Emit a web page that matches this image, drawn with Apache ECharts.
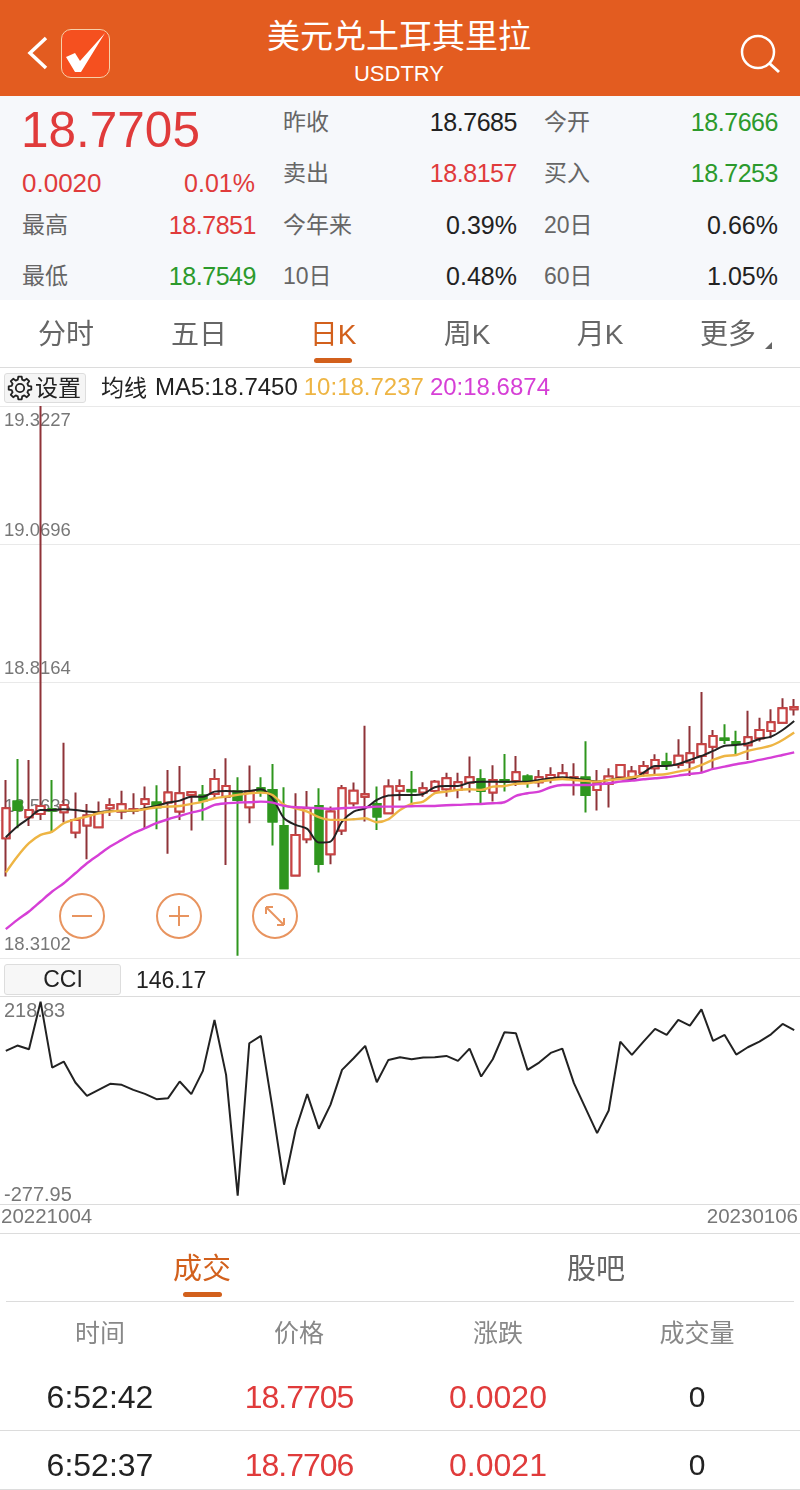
<!DOCTYPE html>
<html>
<head>
<meta charset="utf-8">
<title>USDTRY</title>
<script src="https://cdn.jsdelivr.net/npm/echarts@6/dist/echarts.min.js"></script>
<style>
  html, body { margin: 0; padding: 0; width: 800px; height: 1490px; overflow: hidden; background: #fff; }
  body, #chart, .t { font-family: "Liberation Sans", "Noto Sans CJK SC", sans-serif; }
  #chart { position: absolute; left: 0; top: 0; width: 800px; height: 1490px; }
  .box { position: absolute; }
  .t { position: absolute; white-space: nowrap; line-height: 1; transform: translateY(-50%); }
  .t.r { transform: translate(-100%, -50%); }
  .t.c { transform: translate(-50%, -50%); }
  svg { position: absolute; }
</style>
</head>
<body>
<div id="chart"></div>
<div id="chrome"></div>
<script>
// ---- данные графика ----
const dates = [
  '20221004','20221005','20221006','20221007','20221010','20221011','20221012','20221013','20221014',
  '20221017','20221018','20221019','20221020','20221021','20221024','20221025','20221026','20221027','20221028',
  '20221031','20221101','20221102','20221103','20221104','20221107','20221108','20221109','20221110','20221111',
  '20221114','20221115','20221116','20221117','20221118','20221121','20221122','20221123','20221124','20221125',
  '20221128','20221129','20221130','20221201','20221202','20221205','20221206','20221207','20221208','20221209',
  '20221212','20221213','20221214','20221215','20221216','20221219','20221220','20221221','20221222','20221223',
  '20221226','20221227','20221228','20221229','20221230','20230102','20230103','20230104','20230105','20230106'
];
// open, close, low, high
const candles = [
  [18.5299,18.5849,18.4596,18.6368],[18.5971,18.5818,18.5482,18.6753],[18.5684,18.5818,18.5525,18.6735],
  [18.5745,18.5891,18.5635,19.3227],[18.5830,18.5806,18.5403,18.6368],[18.5775,18.5910,18.5586,18.7052],
  [18.5403,18.5635,18.5299,18.6136],[18.5531,18.5714,18.4914,18.5928],[18.5500,18.5757,18.5482,18.5971],
  [18.5849,18.5910,18.5708,18.6032],[18.5788,18.5922,18.5647,18.6172],[18.5806,18.5830,18.5739,18.6124],
  [18.5928,18.6014,18.5482,18.6246],[18.5953,18.5867,18.5464,18.6270],[18.5953,18.6136,18.5012,18.6551],
  [18.5788,18.6124,18.5635,18.6625],[18.6093,18.6142,18.5439,18.6154],[18.6081,18.5989,18.5623,18.6276],
  [18.6111,18.6386,18.6032,18.6570],[18.6062,18.6258,18.4810,18.6765],[18.6154,18.6001,18.3142,18.6417],
  [18.5867,18.6154,18.5574,18.6631],[18.6215,18.6154,18.6062,18.6417],[18.6185,18.5604,18.5164,18.6661],
  [18.5525,18.4382,18.4382,18.6234],[18.4614,18.5360,18.4596,18.6124],[18.5280,18.5849,18.5207,18.6166],
  [18.5891,18.4828,18.4669,18.6215],[18.5005,18.5788,18.4822,18.5879],[18.5439,18.6215,18.5360,18.6276],
  [18.5940,18.6172,18.5879,18.6319],[18.6062,18.6105,18.5604,18.7364],[18.5928,18.5696,18.5451,18.6246],
  [18.5757,18.6246,18.5745,18.6380],[18.6172,18.6258,18.5989,18.6380],[18.6185,18.6160,18.5879,18.6533],
  [18.6136,18.6215,18.6062,18.6325],[18.6166,18.6337,18.6136,18.6368],[18.6197,18.6399,18.6062,18.6502],
  [18.6185,18.6325,18.6032,18.6502],[18.6319,18.6417,18.6136,18.6796],[18.6380,18.6166,18.5910,18.6564],
  [18.6136,18.6368,18.5971,18.6637],[18.6368,18.6331,18.6154,18.6845],[18.6350,18.6509,18.6258,18.6808],
  [18.6429,18.6350,18.6227,18.6472],[18.6325,18.6417,18.6234,18.6551],[18.6399,18.6460,18.6307,18.6600],
  [18.6399,18.6490,18.6368,18.6661],[18.6386,18.6417,18.6081,18.6673],[18.6411,18.6093,18.5769,18.7077],
  [18.6185,18.6307,18.5806,18.6551],[18.6295,18.6429,18.5861,18.6582],[18.6417,18.6643,18.6399,18.6661],
  [18.6417,18.6521,18.6399,18.6625],[18.6502,18.6625,18.6429,18.6716],[18.6582,18.6735,18.6472,18.6838],
  [18.6692,18.6661,18.6551,18.6869],[18.6643,18.6814,18.6582,18.7113],[18.6692,18.6857,18.6441,18.7358],
  [18.6808,18.7022,18.6490,18.7981],[18.6979,18.7175,18.6551,18.7284],[18.7126,18.7101,18.7028,18.7388],
  [18.7065,18.7028,18.6845,18.7272],[18.7003,18.7150,18.6735,18.7639],[18.7132,18.7284,18.7071,18.7511],
  [18.7266,18.7425,18.7132,18.7663],[18.7419,18.7682,18.7407,18.7865],[18.7666,18.7705,18.7549,18.7851]
];
const ma5 = [
  18.5317,18.5513,18.5665,18.5818,18.5818,18.5830,18.5818,18.5788,18.5775,18.5800,18.5800,18.5800,18.5849,18.5891,
  18.5953,18.5989,18.6062,18.6062,18.6154,18.6166,18.6154,18.6166,18.6197,18.6032,18.5665,18.5543,18.5470,18.5219,
  18.5238,18.5604,18.5788,18.5849,18.6001,18.6081,18.6093,18.6093,18.6111,18.6234,18.6258,18.6258,18.6319,18.6337,
  18.6337,18.6337,18.6337,18.6337,18.6368,18.6399,18.6417,18.6399,18.6368,18.6337,18.6368,18.6399,18.6386,18.6502,
  18.6625,18.6625,18.6661,18.6735,18.6808,18.6900,18.6997,18.7010,18.7040,18.7120,18.7162,18.7284,18.7450
];
const ma10 = [
  18.4669,18.4963,18.5207,18.5360,18.5421,18.5574,18.5647,18.5696,18.5757,18.5788,18.5806,18.5806,18.5830,18.5867,
  18.5879,18.5891,18.5928,18.5971,18.6032,18.6062,18.6093,18.6124,18.6136,18.6093,18.5910,18.5849,18.5788,18.5684,
  18.5635,18.5635,18.5647,18.5665,18.5592,18.5647,18.5818,18.5928,18.5971,18.6124,18.6154,18.6185,18.6197,18.6185,
  18.6246,18.6258,18.6295,18.6307,18.6337,18.6368,18.6386,18.6368,18.6350,18.6337,18.6368,18.6386,18.6417,18.6447,
  18.6460,18.6478,18.6521,18.6564,18.6643,18.6735,18.6808,18.6826,18.6900,18.6948,18.6997,18.7101,18.7237
];
const ma20 = [
  18.3631,18.3802,18.3955,18.4138,18.4321,18.4474,18.4657,18.4840,18.4993,18.5146,18.5268,18.5390,18.5482,18.5574,
  18.5647,18.5708,18.5769,18.5818,18.5910,18.5940,18.5953,18.5959,18.5971,18.5953,18.5891,18.5867,18.5861,18.5849,
  18.5836,18.5849,18.5861,18.5867,18.5879,18.5879,18.5879,18.5885,18.5891,18.5891,18.5904,18.5910,18.5922,18.5928,
  18.5940,18.5959,18.6075,18.6124,18.6154,18.6234,18.6276,18.6276,18.6276,18.6289,18.6307,18.6337,18.6356,18.6380,
  18.6399,18.6417,18.6447,18.6478,18.6502,18.6570,18.6612,18.6655,18.6692,18.6735,18.6777,18.6826,18.6874
];
const cci = [
  92.7,106.4,97.0,218.83,50.1,65.5,11.8,-22.3,-6.9,8.4,5.8,-7.0,-17.2,-30.8,-28.2,14.3,-18.0,41.6,172.0,31.4,-277.95,
  112.3,131.1,-53.8,-249.8,-109.2,-18.0,-106.6,-45.3,44.2,74.0,105.5,12.6,69.7,76.5,71.4,75.7,76.5,79.9,67.2,98.7,
  27.1,71.4,140.4,137.9,44.2,62.9,87.6,98.7,10.1,-53.8,-117.7,-59.8,116.6,82.5,116.6,149.0,133.6,172.0,157.5,199.2,
  118.3,133.6,83.4,102.1,116.6,135.3,161.7,146.17
];
const priceTicks = [18.3102, 18.5633, 18.8164, 19.0696, 19.3227];
const cciTicks = [-277.95, 218.83];
const maLabels = { MA5: 'MA5:18.7450', MA10: '10:18.7237', MA20: '20:18.6874' };

// ---- шапка и таблицы вокруг графика ----
const ORANGE = '#e35c20', ACCENT = '#d2601c', RED = '#e03b3b', GREEN = '#2c9a2c', DARK = '#222', GRAY = '#666';
const chrome = document.getElementById('chrome');

function box(x, y, w, h, css) {
  const d = document.createElement('div');
  d.className = 'box';
  d.style.cssText = `left:${x}px;top:${y}px;width:${w}px;height:${h}px;${css}`;
  chrome.appendChild(d);
}
function text(s, x, y, size, color, align, spacing) {
  const d = document.createElement('div');
  d.className = 't' + (align ? ' ' + align : '');
  d.textContent = s;
  d.style.cssText = `left:${x}px;top:${y}px;font-size:${size}px;color:${color};letter-spacing:${spacing || 0}px;`;
  chrome.appendChild(d);
}

box(0, 0, 800, 96, `background:${ORANGE};`);
box(0, 96, 800, 204, 'background:#f6f8fb;');
text('美元兑土耳其里拉', 399, 36, 33, '#fff', 'c');
text('USDTRY', 399, 74, 22, '#fff', 'c');
box(61, 29, 47, 47, 'background:#f5501f;border:1px solid #f7cfa8;border-radius:10px;');

text('18.7705', 21, 130, 49.5, RED);
text('0.0020', 22, 183, 26, RED);
text('0.01%', 255, 183, 25, RED, 'r');

const quoteCols = [
  { x: 22, right: 256, rows: [['最高', '18.7851', RED, 225], ['最低', '18.7549', GREEN, 276]] },
  { x: 283, right: 517, rows: [['昨收', '18.7685', DARK, 122], ['卖出', '18.8157', RED, 173], ['今年来', '0.39%', DARK, 225], ['10日', '0.48%', DARK, 276]] },
  { x: 544, right: 778, rows: [['今开', '18.7666', GREEN, 122], ['买入', '18.7253', GREEN, 173], ['20日', '0.66%', DARK, 225], ['60日', '1.05%', DARK, 276]] },
];
quoteCols.forEach((c) => c.rows.forEach((r) => {
  text(r[0], c.x, r[3], 23, GRAY);
  text(r[1], c.right, r[3], 25, r[2], 'r', r[1].startsWith('18.') ? -0.45 : 0);
}));

const tabs = [['分时', 66], ['五日', 199], ['日K', 333], ['周K', 467], ['月K', 600], ['更多', 728]];
tabs.forEach((t) => text(t[0], t[1], 335, 28, t[0] === '日K' ? ACCENT : GRAY, 'c'));
box(314, 358, 38, 5, `background:${ACCENT};border-radius:3px;`);
box(0, 367, 800, 1, 'background:#dcdcdc;');

box(4, 373, 80, 28, 'background:#f5f5f5;border:1px solid #ddd;border-radius:3px;');
text('设置', 35, 388, 23, DARK);
text('均线', 101, 388, 23, DARK);
box(4, 964, 115, 29, 'background:#f7f7f7;border:1px solid #ddd;border-radius:3px;');
text('CCI', 63, 979, 23, DARK, 'c');
text('146.17', 136, 980, 23, DARK);

box(0, 1233, 800, 1, 'background:#dcdcdc;');
text('成交', 202, 1269, 29, ACCENT, 'c');
text('股吧', 596, 1269, 29, GRAY, 'c');
box(183, 1292, 39, 5, `background:${ACCENT};border-radius:3px;`);
box(6, 1301, 788, 1, 'background:#dcdcdc;');

const colX = [100, 299, 498, 697];
['时间', '价格', '涨跌', '成交量'].forEach((h, i) => text(h, colX[i], 1333, 25, '#888', 'c'));
const trades = [['6:52:42', '18.7705', '0.0020', '0', 1397], ['6:52:37', '18.7706', '0.0021', '0', 1465]];
trades.forEach((r) => {
  text(r[0], colX[0], r[4], 32, DARK, 'c');
  text(r[1], colX[1], r[4], 32, RED, 'c', -1);
  text(r[2], colX[2], r[4], 32, RED, 'c');
  text(r[3], colX[3], r[4], 30, DARK, 'c');
});
box(0, 1430, 800, 1, 'background:#dcdcdc;');
box(0, 1489, 800, 1, 'background:#dcdcdc;');

// шестерёнка кнопки «设置»: 8 зубцов
const gearPts = [];
for (let i = 0; i < 8; i++) {
  const a = i * Math.PI / 4;
  [[-0.26, 8.6], [-0.15, 11.4], [0.15, 11.4], [0.26, 8.6]].forEach((p) => {
    gearPts.push((20 + p[1] * Math.cos(a + p[0])).toFixed(1) + ',' + (388 + p[1] * Math.sin(a + p[0])).toFixed(1));
  });
}

// значки шапки: назад, галочка, поиск, шестерёнка, треугольник
chrome.insertAdjacentHTML('beforeend', `
<svg style="left:0;top:0" width="800" height="420" fill="none">
  <polyline points="46,38 30,53 46,68" stroke="#fff" stroke-width="3.5"/>
  <polygon points="66,57 75,53 80,61 105,33 81,72 75,72" fill="#fff"/>
  <circle cx="758" cy="52" r="16" stroke="#fff" stroke-width="2.5"/>
  <line x1="769" y1="63" x2="779" y2="72" stroke="#fff" stroke-width="3"/>
  <polygon points="765,349 772,349 772,342" fill="#666"/>
  <polygon points="${gearPts.join(' ')}" stroke="#222" stroke-width="1.8" stroke-linejoin="round"/>
  <circle cx="20" cy="388" r="4.2" stroke="#222" stroke-width="1.8"/>
</svg>`);

// ---- график ----
const chart = echarts.init(document.getElementById('chart'));
const LINE = '#e9e9e9', LABEL = '#777', BTN = '#e8945f';
const CANDLE_GREEN = '#2f961e';
const lineSeries = (name, data, color, width) => ({
  name, type: 'line', data, xAxisIndex: 0, yAxisIndex: 0,
  smooth: 0.3, symbol: 'none', lineStyle: { color, width }, itemStyle: { color }, z: 3,
});
const candleSeries = (name, data, upBorder) => ({
  name, type: 'candlestick', data, xAxisIndex: 0, yAxisIndex: 0, barWidth: 8, z: 2,
  itemStyle: { color: '#fff', color0: CANDLE_GREEN, borderColor: upBorder, borderColor0: CANDLE_GREEN, borderWidth: 2 },
});
const btnCircle = (cx) => ({ type: 'circle', shape: { cx, cy: 916, r: 22 }, style: { fill: 'rgba(255,255,255,0)', stroke: BTN, lineWidth: 2 } });
const btnLine = (x1, y1, x2, y2) => ({ type: 'line', shape: { x1, y1, x2, y2 }, style: { stroke: BTN, lineWidth: 2 } });

chart.setOption({
  animation: false,
  textStyle: { fontFamily: '"Liberation Sans", "Noto Sans CJK SC", sans-serif' },
  legend: {
    left: 150, top: 376, padding: 0, icon: 'none', itemWidth: 0, itemHeight: 0, itemGap: 1,
    selectedMode: false,
    data: [
      { name: 'MA5', textStyle: { color: '#222' } },
      { name: 'MA10', textStyle: { color: '#eeb544' } },
      { name: 'MA20', textStyle: { color: '#d63fd6' } },
    ],
    textStyle: { fontSize: 24 },
    formatter: (n) => maLabels[n],
  },
  grid: [
    { left: 0, right: 0, top: 406, height: 552, outerBoundsMode: 'none' },
    { left: 0, right: 0, top: 996, height: 208, outerBoundsMode: 'none' },
  ],
  xAxis: [
    { type: 'category', gridIndex: 0, data: dates, axisLine: { show: false }, axisTick: { show: false }, axisLabel: { show: false } },
    { type: 'category', gridIndex: 1, data: dates, axisLine: { show: false }, axisTick: { show: false }, axisLabel: { show: false } },
    // подписи дат: только первая и последняя, прижаты к краям
    {
      type: 'value', gridIndex: 1, position: 'bottom', min: 0, max: dates.length - 1, interval: dates.length - 1,
      axisLine: { show: false }, axisTick: { show: false }, splitLine: { show: false },
      axisLabel: {
        color: LABEL, fontSize: 20.5, margin: 3, padding: [0, 2, 0, 1], alignMinLabel: 'left', alignMaxLabel: 'right',
        formatter: (v) => dates[v],
      },
    },
  ],
  yAxis: [
    {
      type: 'value', gridIndex: 0, min: priceTicks[0], max: priceTicks[4],
      axisLine: { show: false },
      axisTick: { show: false, customValues: priceTicks },
      splitLine: { lineStyle: { color: LINE, width: 1 } },
      axisLabel: {
        inside: true, customValues: priceTicks, color: LABEL, fontSize: 18.5, margin: 4,
        verticalAlign: 'bottom', verticalAlignMaxLabel: 'top',
        formatter: (v) => (v === priceTicks[4] ? `{hi|${v.toFixed(4)}}` : `{lo|${v.toFixed(4)}}`),
        rich: {
          hi: { color: LABEL, fontSize: 18.5, padding: [6, 0, 0, 0] },
          lo: { color: LABEL, fontSize: 18.5, padding: [0, 0, 4, 0] },
        },
      },
    },
    {
      type: 'value', gridIndex: 1, min: -299.2, max: 233.3,
      axisLine: { show: false },
      axisTick: { show: false, customValues: [-299.2, 233.3] },
      splitLine: { lineStyle: { color: '#dcdcdc', width: 1 } },
      axisLabel: {
        inside: true, customValues: cciTicks, color: LABEL, fontSize: 20, margin: 4,
        formatter: (v) => (v > 0 ? `{hi|${v.toFixed(2)}}` : v.toFixed(2)),
        rich: { hi: { color: LABEL, fontSize: 20, padding: [19, 0, 0, 0] } },
      },
    },
  ],
  series: [
    // тени темнее тела свечи: второй слой рисует только тело
    candleSeries('K', candles, '#8f3338'),
    candleSeries('KBody', candles.map((c) => [c[0], c[1], Math.min(c[0], c[1]), Math.max(c[0], c[1])]), '#c94343'),
    lineSeries('MA5', ma5, '#222', 2),
    lineSeries('MA10', ma10, '#eeb544', 2.4),
    lineSeries('MA20', ma20, '#d63fd6', 2.4),
    {
      name: 'CCI', type: 'line', data: cci, xAxisIndex: 1, yAxisIndex: 1,
      symbol: 'none', lineStyle: { color: '#222', width: 2 }, itemStyle: { color: '#222' },
    },
  ],
  graphic: [
    btnCircle(82), btnLine(72, 916, 92, 916),
    btnCircle(179), btnLine(169, 916, 189, 916), btnLine(179, 906, 179, 926),
    btnCircle(275), btnLine(266, 907, 284, 925),
    btnLine(266, 907, 273, 907), btnLine(266, 907, 266, 914),
    btnLine(284, 925, 277, 925), btnLine(284, 925, 284, 918),
  ],
});
</script>
</body>
</html>
